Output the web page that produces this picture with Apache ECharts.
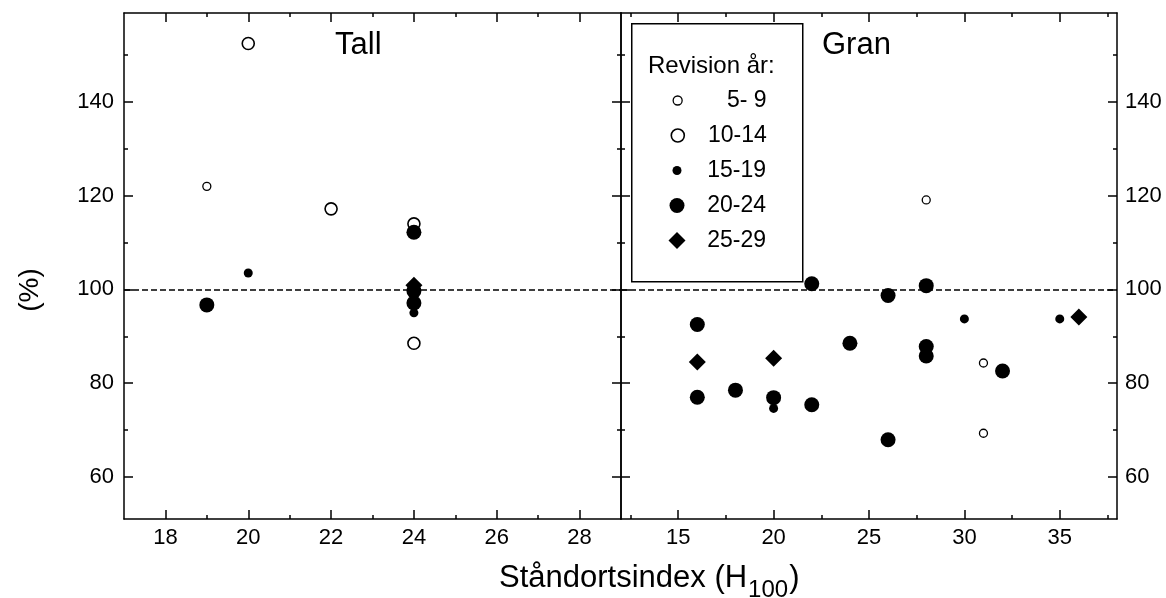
<!DOCTYPE html>
<html><head><meta charset="utf-8">
<script src="https://cdn.jsdelivr.net/npm/echarts@6/dist/echarts.min.js"></script>
<style>html,body{margin:0;padding:0;background:#fff}#c{width:1166px;height:598px}</style>
</head><body><div id="c"></div>
<script>
// ---- data ----
const groupNames = ['5- 9', '10-14', '15-19', '20-24', '25-29'];
const tall_5_9   = [[19, 122]];
const tall_10_14 = [[20, 152.5], [22, 117.2], [24, 114], [24, 88.5]];
const tall_15_19 = [[20, 103.5], [24, 95]];
const tall_20_24 = [[19, 96.7], [24, 112.2], [24, 99.7], [24, 97.1]];
const tall_25_29 = [[24, 100.9]];
const gran_5_9   = [[28, 119.1], [31, 84.3], [31, 69.3]];
const gran_10_14 = [];
const gran_15_19 = [[20, 74.6], [30, 93.7], [35, 93.7]];
const gran_20_24 = [[16, 92.5], [16, 77.0], [18, 78.5], [20, 76.9], [22, 101.2], [22, 75.4], [24, 88.5],
                    [26, 98.7], [26, 67.9], [28, 100.8], [28, 87.8], [28, 85.8], [32, 82.6]];
const gran_25_29 = [[16, 84.5], [20, 85.3], [36, 94.1]];
const referenceLevel = 100;
const tallXTicks = [18, 20, 22, 24, 26, 28];
const tallXMinor = [19, 21, 23, 25, 27];
const granXTicks = [15, 20, 25, 30, 35];
const granXMinor = [12.5, 17.5, 22.5, 27.5, 32.5, 37.5];
const yTicks = [60, 80, 100, 120, 140];
const yMinor = [70, 90, 110, 130, 150];

// ---- styling ----
const FONT = 'Liberation Sans, Arial, Helvetica, sans-serif';
const AX = { color: '#000', width: 1.5 };
const styles = {
  '5- 9':  { symbol: 'circle', size: 8,  itemStyle: { color: '#fff', borderColor: '#000', borderWidth: 1.3, opacity: 1 }, leg: 9 },
  '10-14': { symbol: 'circle', size: 12, itemStyle: { color: '#fff', borderColor: '#000', borderWidth: 1.6, opacity: 1 }, leg: 13 },
  '15-19': { symbol: 'circle', size: 9,  itemStyle: { color: '#000', opacity: 1 }, leg: 9 },
  '20-24': { symbol: 'circle', size: 15, itemStyle: { color: '#000', opacity: 1 }, leg: 15 },
  '25-29': { symbol: 'diamond', size: 17, itemStyle: { color: '#000', opacity: 1 }, leg: 17 }
};

function xAxes(gi, min, max, major, minor) {
  const base = { type: 'value', gridIndex: gi, min, max, splitLine: { show: false } };
  return [
    Object.assign({}, base, { position: 'bottom', axisLine: { lineStyle: AX },
      axisTick: { inside: true, length: 9, lineStyle: AX, customValues: major },
      axisLabel: { customValues: major, fontSize: 22, color: '#000', margin: 8, fontFamily: FONT } }),
    Object.assign({}, base, { position: 'bottom', axisLine: { show: false },
      axisTick: { inside: true, length: 4, lineStyle: AX, customValues: minor }, axisLabel: { show: false } }),
    Object.assign({}, base, { position: 'top', axisLine: { lineStyle: AX },
      axisTick: { inside: true, length: 9, lineStyle: AX, customValues: major }, axisLabel: { show: false } }),
    Object.assign({}, base, { position: 'top', axisLine: { show: false },
      axisTick: { inside: true, length: 4, lineStyle: AX, customValues: minor }, axisLabel: { show: false } })
  ];
}
function yAxes(gi, labelsLeft) {
  const base = { type: 'value', gridIndex: gi, min: 51, max: 159, splitLine: { show: false } };
  const lab = { customValues: yTicks, fontSize: 22, color: '#000', margin: 10, fontFamily: FONT };
  const left = Object.assign({}, base, { position: 'left', axisLine: { lineStyle: AX },
      axisTick: { inside: true, length: 9, lineStyle: AX, customValues: yTicks },
      axisLabel: labelsLeft ? lab : { show: false } });
  if (labelsLeft) {
    Object.assign(left, { name: '(%)', nameLocation: 'middle', nameRotate: 90, nameGap: 80,
      nameTextStyle: { fontSize: 28, color: '#000', fontFamily: FONT, padding: [0, 48, 0, 0] } });
  }
  return [
    left,
    Object.assign({}, base, { position: 'left', axisLine: { show: false },
      axisTick: { inside: true, length: 4, lineStyle: AX, customValues: yMinor }, axisLabel: { show: false } }),
    Object.assign({}, base, { position: 'right', axisLine: { lineStyle: AX },
      axisTick: { inside: true, length: 9, lineStyle: AX, customValues: yTicks },
      axisLabel: labelsLeft ? { show: false } : Object.assign({}, lab, { margin: 8 }) }),
    Object.assign({}, base, { position: 'right', axisLine: { show: false },
      axisTick: { inside: true, length: 4, lineStyle: AX, customValues: yMinor }, axisLabel: { show: false } })
  ];
}

function mkSeries(name, data, gi, withLine) {
  const st = styles[name];
  const s = {
    type: 'scatter', name, data, xAxisIndex: gi * 4, yAxisIndex: gi * 4,
    symbol: st.symbol, symbolSize: st.size, itemStyle: st.itemStyle, silent: true
  };
  if (withLine) {
    s.markLine = { silent: true, symbol: ['none', 'none'], label: { show: false },
      lineStyle: { color: '#000', type: [6, 3], width: 1.5, opacity: 1 }, data: [{ yAxis: referenceLevel }] };
  }
  return s;
}

const tallData = [tall_5_9, tall_10_14, tall_15_19, tall_20_24, tall_25_29];
const granData = [gran_5_9, gran_10_14, gran_15_19, gran_20_24, gran_25_29];
const series = [];
groupNames.forEach((n, i) => series.push(mkSeries(n, tallData[i], 0, i === 0)));
groupNames.forEach((n, i) => series.push(mkSeries(n, granData[i], 1, i === 0)));

const legendRowsY = [101, 136, 171, 206, 241];
const legendSymX = 677, legendTextRight = 766;
const legends = groupNames.map((n, i) => {
  const w = styles[n].leg;
  return {
    data: [n], selectedMode: false, orient: 'horizontal', padding: 0, itemGap: 0, z: 10,
    left: legendSymX - w / 2, top: legendRowsY[i] - 12, itemWidth: w, itemHeight: w,
    itemStyle: Object.assign({}, styles[n].itemStyle),
    formatter: '{r|' + n + '}',
    textStyle: { color: '#000', fontFamily: FONT, fontSize: 23,
      rich: { r: { width: legendTextRight - (legendSymX + w / 2 + 5), align: 'right', fontSize: 23, lineHeight: 24, fontFamily: FONT, color: '#000' } } }
  };
});

const chart = echarts.init(document.getElementById('c'), null, { renderer: 'canvas' });
chart.setOption({
  animation: false,
  backgroundColor: '#fff',
  textStyle: { fontFamily: FONT },
  grid: [
    { left: 124, top: 13, width: 497, height: 506, containLabel: false },
    { left: 621, top: 13, width: 496, height: 506, containLabel: false }
  ],
  xAxis: [].concat(xAxes(0, 17, 29, tallXTicks, tallXMinor), xAxes(1, 12, 38, granXTicks, granXMinor)),
  yAxis: [].concat(yAxes(0, true), yAxes(1, false)),
  graphic: [{ type: 'rect', left: 631, top: 23, z: 1, silent: true,
    shape: { width: 171, height: 258 }, style: { fill: '#fff', stroke: '#000', lineWidth: 1.5 } }],
  title: [
    { text: 'Tall', left: 335, top: 30, padding: 0, textStyle: { fontSize: 31, fontWeight: 'normal', color: '#000', fontFamily: FONT } },
    { text: 'Gran', left: 822, top: 30, padding: 0, textStyle: { fontSize: 31, fontWeight: 'normal', color: '#000', fontFamily: FONT } },
    { text: 'Revision år:', left: 648, top: 54, padding: 0, z: 10, textStyle: { fontSize: 24, fontWeight: 'normal', color: '#000', fontFamily: FONT } },
    { text: '{a|Ståndortsindex (H}{s|100}{a|)}', left: 499, top: 563, padding: 0,
      textStyle: { fontWeight: 'normal', color: '#000', fontFamily: FONT,
        rich: { a: { fontSize: 31, lineHeight: 31, verticalAlign: 'top', fontFamily: FONT, color: '#000' },
                s: { fontSize: 24, lineHeight: 24, padding: [15, 1, 0, 1], verticalAlign: 'top', fontFamily: FONT, color: '#000' } } } }
  ],
  legend: legends,
  series
});
</script></body></html>
